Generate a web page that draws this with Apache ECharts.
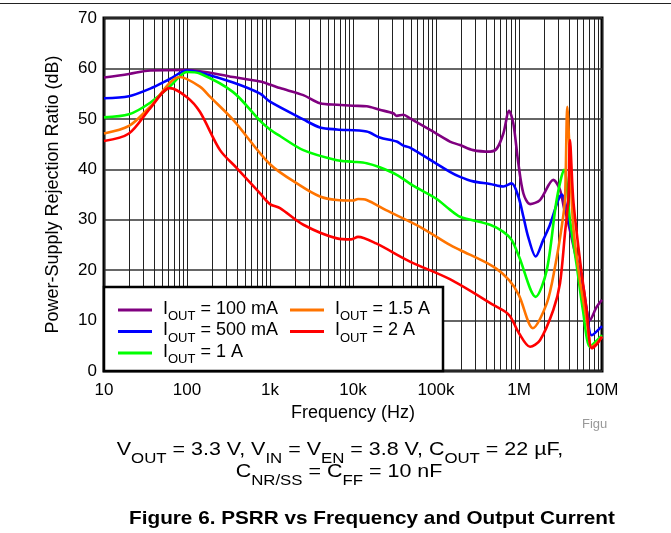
<!DOCTYPE html>
<html>
<head>
<meta charset="utf-8">
<script src="https://cdn.jsdelivr.net/npm/echarts@6/dist/echarts.min.js"></script>
<style>
html,body{margin:0;padding:0;background:#fff;}
#chart{width:671px;height:533px;}
</style>
</head>
<body>
<div id="chart"></div>
<script>
// ---- data (frequency in Hz, PSRR in dB) ----
const xTickValues = [10, 100, 1000, 10000, 100000, 1000000, 10000000];
const xTickLabels = ['10', '100', '1k', '10k', '100k', '1M', '10M'];
const minorMultipliers = [2, 3, 4, 5, 6, 7, 8, 9];

const seriesNames = ['100 mA', '500 mA', '1 A', '1.5 A', '2 A'];
const seriesColors = ['#800080', '#0000FF', '#00FF00', '#FF7400', '#FF0000'];

const freq100mA = [10,20,36,100,360,760,1000,1320,2520,4000,6400,10000,14600,21000,30600,33600,40400,48600,85000,147000,195000,280000,448000,540000,648000,760000,854000,982000,1130000,1360000,1790000,2590000,3120000,3490000,3760000,4950000,5900000,7170000,8630000,10000000];
const psrr100mA = [58.2,58.9,59.6,59.7,58.3,57.4,56.8,56.1,54.7,53.1,52.8,52.6,52.5,51.8,51.1,50.6,50.8,50.1,47.8,45.5,44.8,43.8,43.5,44.1,47.1,51.6,49.1,41.2,35.2,33.1,33.9,37.9,35.9,32.3,30.6,22.0,17.0,10.1,12.7,14.1];

const freq500mA = [10,20,36,62,100,143,360,760,1000,2520,4000,6400,14600,21000,33600,40400,48600,147000,195000,280000,448000,648000,815000,982000,1130000,1290000,1590000,1960000,2360000,2970000,3270000,4110000,5430000,6540000,7500000,10000000];
const psrr500mA = [54.1,54.5,56.0,57.9,59.6,59.2,57.2,55.0,53.4,49.9,48.3,47.9,47.5,46.3,45.5,44.7,44.3,39.5,38.5,37.6,37.1,36.6,37.2,34.6,30.6,26.6,22.7,26.0,29.0,33.9,35.0,28.6,19.4,12.0,7.1,8.9];

const freq1A = [10,20,36,62,100,143,360,760,1000,1320,2520,6400,10000,14600,21000,33600,55000,100000,147000,195000,448000,648000,815000,1000000,1590000,2160000,2840000,3490000,4110000,4950000,5900000,7170000,8630000,10000000];
const psrr1A = [50.3,50.9,53.2,56.4,59.3,59.0,55.3,49.6,47.9,46.6,43.8,41.8,41.5,41.2,40.4,38.9,36.6,34.2,32.0,30.6,29.0,27.6,26.0,22.7,14.7,20.0,33.9,39.9,30.0,21.0,12.0,4.8,6.0,7.1];

const freq1p5A = [10,20,36,82,143,189,360,1000,2300,4000,6400,10000,11500,14600,25000,64000,147000,195000,490000,760000,1000000,1470000,2160000,2720000,3270000,3580000,3820000,4110000,4510000,5430000,6540000,7500000,8630000,10000000];
const psrr1p5A = [47.1,48.6,52.4,58.3,56.4,54.4,49.8,41.0,36.8,34.6,33.9,33.8,34.1,33.9,31.9,28.6,25.0,24.0,20.7,18.0,15.0,8.5,13.4,20.7,28.6,34.0,52.4,41.8,28.6,18.0,10.0,4.8,5.5,6.8];

const freq2A = [10,20,36,62,100,143,250,400,760,1000,1320,2520,6400,9500,11500,19000,48600,147000,490000,760000,1000000,1360000,1790000,2590000,3120000,3580000,3920000,4110000,4510000,5430000,6540000,7510000,8630000,10000000];
const psrr2A = [45.6,47.1,52.1,56.1,54.3,51.4,43.8,40.2,35.2,33.1,32.3,29.0,26.3,26.1,26.6,25.3,21.7,18.2,13.1,11.1,7.5,4.8,6.1,12.1,17.4,27.3,33.9,45.8,33.9,22.0,12.0,4.5,5.3,6.8];

const allFreq = [freq100mA, freq500mA, freq1A, freq1p5A, freq2A];
const allPsrr = [psrr100mA, psrr500mA, psrr1A, psrr1p5A, psrr2A];

// ---- build ----
const chart = echarts.init(document.getElementById('chart'), null, {renderer: 'canvas'});

const pairs = (fx, vy) => fx.map((f, i) => [f, vy[i]]);
const legendName = n => 'I_OUT = ' + n;

const minorLines = [];
for (let d = 0; d < xTickValues.length - 1; d++) {
  minorMultipliers.forEach(m => minorLines.push({xAxis: xTickValues[d] * m}));
}

const richLegend = {
  a: {fontSize: 18, fontFamily: 'Liberation Sans, Arial', color: '#000', lineHeight: 20, verticalAlign: 'top'},
  b: {fontSize: 13, fontFamily: 'Liberation Sans, Arial', color: '#000', lineHeight: 10, padding: [10, 0, 0, 0], verticalAlign: 'top'}
};
const legendFormatter = name => {
  const v = name.replace('I_OUT = ', '');
  return '{a|I}{b|OUT}{a| = ' + v + '}';
};

const series = seriesNames.map((n, i) => ({
  name: legendName(n),
  type: 'line',
  data: pairs(allFreq[i], allPsrr[i]),
  showSymbol: false,
  symbol: 'none',
  smooth: 0.3,
  z: 2,
  lineStyle: {color: seriesColors[i], width: 2.6},
  itemStyle: {color: seriesColors[i]}
}));
series.unshift({
  name: 'minor-grid',
  type: 'line',
  data: [],
  silent: true,
  z: 1,
  markLine: {
    silent: true,
    z: 1,
    symbol: ['none', 'none'],
    label: {show: false},
    lineStyle: {color: '#222', width: 1, type: 'solid'},
    emphasis: {disabled: true},
    data: minorLines
  }
});

const richCap = {
  n: {fontSize: 18.5, fontFamily: 'Liberation Sans, Arial', fill: '#000', lineHeight: 22, verticalAlign: 'top'},
  s: {fontSize: 14.5, fontFamily: 'Liberation Sans, Arial', fill: '#000', lineHeight: 10, padding: [11, 0, 0, 0], verticalAlign: 'top'}
};

const option = {
  animation: false,
  backgroundColor: '#fff',
  grid: {left: 104, right: 69, top: 18, bottom: 162, show: true, borderColor: '#000', borderWidth: 3, backgroundColor: 'transparent'},
  xAxis: {
    type: 'log', logBase: 10, min: 10, max: 10000000,
    name: 'Frequency (Hz)', nameLocation: 'middle', nameGap: 31,
    nameTextStyle: {fontSize: 18, fontFamily: 'Liberation Sans, Arial', color: '#000'},
    axisLine: {show: false}, axisTick: {show: false},
    axisLabel: {
      fontSize: 17, fontFamily: 'Liberation Sans, Arial', color: '#000', margin: 11,
      showMinLabel: true, showMaxLabel: true,
      formatter: v => {
        const idx = xTickValues.findIndex(t => Math.abs(Math.log10(t) - Math.log10(v)) < 1e-6);
        return idx >= 0 ? xTickLabels[idx] : '';
      }
    },
    splitLine: {show: true, lineStyle: {color: '#222', width: 1}},
    minorTick: {show: false}, minorSplitLine: {show: false}
  },
  yAxis: {
    type: 'value', min: 0, max: 70, interval: 10,
    name: 'Power-Supply Rejection Ratio (dB)', nameLocation: 'middle', nameGap: 42, nameRotate: 90,
    nameTextStyle: {fontSize: 18, fontFamily: 'Liberation Sans, Arial', color: '#000'},
    axisLine: {show: false}, axisTick: {show: false},
    axisLabel: {fontSize: 17, fontFamily: 'Liberation Sans, Arial', color: '#000', margin: 7},
    splitLine: {show: true, lineStyle: {color: '#333', width: 1.5}}
  },
  legend: [
    {
      data: [legendName(seriesNames[0]), legendName(seriesNames[1]), legendName(seriesNames[2])],
      orient: 'vertical', left: 118, top: 300, padding: 0, itemGap: -1.5,
      itemWidth: 34, itemHeight: 3, icon: 'rect', z: 5, selectedMode: false,
      formatter: legendFormatter,
      textStyle: {rich: richLegend, padding: [0, 0, 0, 6]}
    },
    {
      data: [legendName(seriesNames[3]), legendName(seriesNames[4])],
      orient: 'vertical', left: 290, top: 300, padding: 0, itemGap: -1.5,
      itemWidth: 34, itemHeight: 3, icon: 'rect', z: 5, selectedMode: false,
      formatter: legendFormatter,
      textStyle: {rich: richLegend, padding: [0, 0, 0, 6]}
    }
  ],
  graphic: [
    {type: 'line', z: 10, shape: {x1: 0, y1: 3.5, x2: 671, y2: 3.5}, style: {stroke: '#222', lineWidth: 1.2}},
    {type: 'rect', z: 3, shape: {x: 104, y: 287, width: 339, height: 84}, style: {fill: '#fff', stroke: '#000', lineWidth: 2.5}},
    {type: 'text', z: 10, x: 582, y: 418, style: {text: 'Figu', fontSize: 13, fontFamily: 'Liberation Sans, Arial', fill: '#999'}},
    {type: 'text', z: 10, x: 340, y: 440, scaleX: 1.16, style: {
      text: '{n|V}{s|OUT}{n| = 3.3 V, V}{s|IN}{n| = V}{s|EN}{n| = 3.8 V, C}{s|OUT}{n| = 22 µF,}',
      rich: richCap, align: 'center'}},
    {type: 'text', z: 10, x: 339, y: 462, scaleX: 1.16, style: {
      text: '{n|C}{s|NR/SS}{n| = C}{s|FF}{n| = 10 nF}',
      rich: richCap, align: 'center'}},
    {type: 'text', z: 10, x: 372, y: 509, scaleX: 1.12, style: {
      text: 'Figure 6. PSRR vs Frequency and Output Current',
      fontSize: 18.5, fontWeight: 'bold', fontFamily: 'Liberation Sans, Arial', fill: '#000', align: 'center'}}
  ],
  series: series
};
chart.setOption(option);
</script>
</body>
</html>
